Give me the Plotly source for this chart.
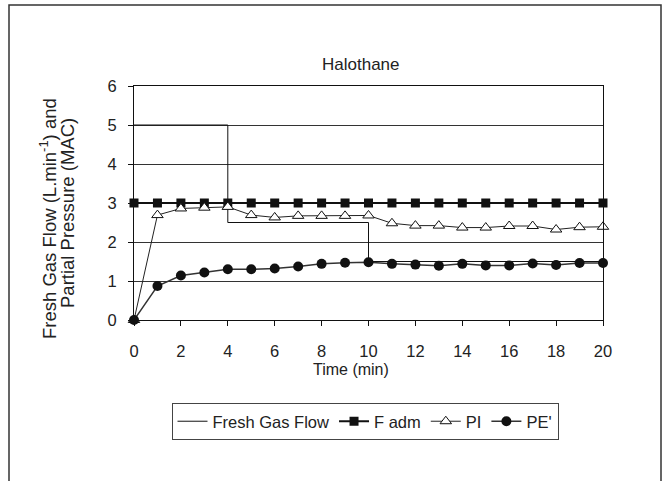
import plotly.graph_objects as go

time = list(range(0, 21))
fgf_x = [0, 4, 4, 10, 10, 20]
fgf_y = [5, 5, 2.5, 2.5, 1.5, 1.5]
f_adm = [3] * 21
pi = [0, 2.69, 2.86, 2.88, 2.9, 2.69, 2.63, 2.67, 2.67, 2.67, 2.68,
      2.48, 2.42, 2.42, 2.37, 2.37, 2.41, 2.41, 2.32, 2.38, 2.39]
pe = [0, 0.87, 1.14, 1.22, 1.3, 1.3, 1.32, 1.37, 1.44, 1.47, 1.48,
      1.44, 1.42, 1.39, 1.44, 1.40, 1.40, 1.45, 1.41, 1.46, 1.46]

FONT = "Liberation Sans, Arial, sans-serif"
W, H = 667, 481
L, R, T, B = 134, 603, 86, 320  # plot area in reference pixels

def px(x):
    return (x - L) / (R - L)

def py(y):
    return (B - y) / (B - T)

fig = go.Figure()
fig.add_trace(go.Scatter(x=fgf_x, y=fgf_y, mode="lines", name="Fresh Gas Flow",
                         line=dict(color="#111111", width=1), cliponaxis=False))
fig.add_trace(go.Scatter(x=time, y=f_adm, mode="lines+markers", name="F adm",
                         line=dict(color="#111111", width=2),
                         marker=dict(symbol="square", size=9, color="#111111"),
                         cliponaxis=False))
fig.add_trace(go.Scatter(x=time, y=pi, mode="lines+markers", name="PI",
                         line=dict(color="#222222", width=1),
                         marker=dict(symbol="triangle-up", size=10, color="white",
                                     line=dict(color="#111111", width=1)),
                         cliponaxis=False))
fig.add_trace(go.Scatter(x=time, y=pe, mode="lines+markers", name="PE'",
                         line=dict(color="#333333", width=1.5),
                         marker=dict(symbol="circle", size=10, color="#111111"),
                         cliponaxis=False))

fig.update_layout(
    width=W, height=H,
    margin=dict(l=L, r=W - R, t=T, b=H - B, autoexpand=False),
    paper_bgcolor="white", plot_bgcolor="white",
    font=dict(family=FONT, size=16, color="#222222"),
    showlegend=True,
    legend=dict(orientation="h", x=px(365), xanchor="center", y=py(403), yanchor="top",
                bordercolor="#444444", borderwidth=1, font=dict(size=16.5),
                itemwidth=30, tracegroupgap=0),
    xaxis=dict(range=[0, 20], dtick=2, tick0=0, showgrid=False, zeroline=False,
               showline=True, linecolor="#111111", linewidth=1, mirror=True,
               ticks="outside", ticklen=5, tickcolor="#111111",
               ticklabelstandoff=11, tickfont=dict(size=16.5)),
    yaxis=dict(range=[0, 6], dtick=1, tick0=0, showgrid=True, gridcolor="#333333",
               gridwidth=1, zeroline=False,
               showline=True, linecolor="#111111", linewidth=1, mirror=True,
               ticks="outside", ticklen=5, tickcolor="#111111",
               ticklabelstandoff=8, tickfont=dict(size=16.5)),
    shapes=[dict(type="rect", xref="paper", yref="paper",
                 x0=px(9), x1=px(661), y0=py(5), y1=-0.8,
                 line=dict(color="#333333", width=1.5), fillcolor="rgba(0,0,0,0)",
                 layer="below")],
    annotations=[
        dict(text="Halothane", xref="paper", yref="paper", x=px(360.5), y=py(64.5),
             xanchor="center", yanchor="middle", showarrow=False, font=dict(size=17)),
        dict(text="Time (min)", xref="paper", yref="paper", x=px(351), y=py(369),
             xanchor="center", yanchor="middle", showarrow=False, font=dict(size=16)),
        dict(text="Fresh Gas Flow (L.min<sup>-1</sup>) and",
             xref="paper", yref="paper", x=px(48), y=py(219), textangle=-90,
             xanchor="center", yanchor="middle", showarrow=False,
             font=dict(size=18.5)),
        dict(text="Partial Pressure (MAC)",
             xref="paper", yref="paper", x=px(67), y=py(213), textangle=-90,
             xanchor="center", yanchor="middle", showarrow=False,
             font=dict(size=18.5)),
    ],
)

fig.write_html("out.html", config={"displayModeBar": False},
               post_script="document.body.style.margin='0';")
